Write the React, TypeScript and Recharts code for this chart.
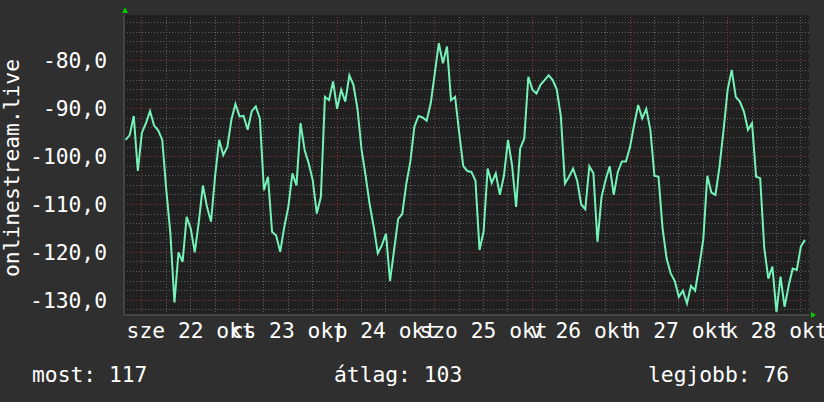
import React from 'react';
import { LineChart, Line, XAxis, YAxis, CartesianGrid, ReferenceLine, ReferenceDot } from 'recharts';

// hourly samples, hour 0 = 22 Oct 00:00
const startHour = -4;
const listeners: number[] = [
  -96.5, -95.5, -91.5, -103,
  -95, -93, -90.5, -93.5, -94.5, -96.5, -107, -116, -130.5, -120, -122, -112.6, -115, -120, -113.6, -106, -110.5, -113.6, -104, -96.5, -99.7, -98, -92.3, -89,
  -91.6, -91.5, -94.4, -90.5, -89.5, -92, -107, -104.2, -115.7, -116.5, -119.9, -114.7, -110.5, -103.5, -106, -93, -98.6, -101.4, -104.9, -111.9, -108.4, -87.5, -88.2, -84.3, -90, -86, -88.5, -83,
  -85, -90, -98.5, -104, -110, -114.7, -120.2, -118.5, -116.1, -126, -119.5, -113, -112, -105.7, -101, -93.7, -91.5, -91.8, -92.5, -88.9, -82.6, -76.3, -80.5, -77, -88.2, -87.5, -95, -102, -103,
  -103.2, -105, -119.5, -115.7, -102.5, -105.5, -103.5, -108, -104, -96.5, -101.8, -110.5, -98.3, -96.2, -83.3, -86, -86.8, -85, -84, -83, -84, -86, -91.6, -105.6, -104.2, -102.5, -105, -110,
  -111, -102, -103.5, -117.8, -108.4, -104.9, -102, -108, -103.2, -101, -101, -98, -93.4, -89.2, -92, -90, -94.4, -104, -104.2, -115, -121.3, -124.4, -126, -129.3, -128, -130.7, -127, -128,
  -123, -117.4, -104, -107.5, -108, -102.1, -94.4, -86, -81.9, -87.5, -88.5, -90.6, -94.4, -93, -104.2, -104.5, -119.1, -125.5, -123, -132.5, -125.1, -131.4, -127, -123.4, -123.7, -118.8, -117.4,
];

const dayLabels = ['sze 22 okt', 'cs 23 okt', 'p 24 okt', 'szo 25 okt', 'v 26 okt', 'h 27 okt', 'k 28 okt'];
const dayLabelHours = [12, 36, 60, 84, 108, 132, 156];
const yTicks = [-130, -120, -110, -100, -90, -80];
const yMinorGrid = [-132, -128, -126, -124, -122, -118, -116, -114, -112, -108, -106, -104, -102, -98, -96, -94, -92, -88, -86, -84, -82, -78, -76, -74, -72];
const xMajorGrid = [0, 24, 48, 72, 96, 120, 144];
const xMinorGrid = [6, 12, 18, 30, 36, 42, 54, 60, 66, 78, 84, 90, 102, 108, 114, 126, 132, 138, 150, 156, 162];
const xDomain: [number, number] = [-4.4, 164];
const yDomain: [number, number] = [-133.1, -70.4];
const legendItems = [
  { label: 'most', value: 117 },
  { label: 'átlag', value: 103 },
  { label: 'legjobb', value: 76 },
];
const yAxisTitle = 'onlinestream.live';

const data = listeners.map((v, i) => ({ hour: startHour + i, value: v }));

const FONT = '"DejaVu Sans Mono", monospace';
const FS = 21.3;
const TEXT = '#ffffff';
const MINOR = '#606060';
const MAJOR = '#8a3838';
const ARROW = '#00cc00';

const UpArrow = (p: any) => (
  <polygon
    points={`${p.cx - 2},${p.cy - 2} ${p.cx + 4},${p.cy - 2} ${p.cx + 1},${p.cy - 8}`}
    fill={ARROW}
  />
);
const RightArrow = (p: any) => (
  <polygon
    points={`${p.cx + 2},${p.cy - 3} ${p.cx + 2},${p.cy + 3} ${p.cx + 7},${p.cy}`}
    fill={ARROW}
  />
);

const YTitle = (props: any) => {
  const vb = props.viewBox || { x: 0, y: 15, width: 124, height: 300 };
  const x = vb.x + 18.5;
  const y = vb.y + vb.height / 2 + 3;
  return (
    <text
      x={x}
      y={y}
      transform={`rotate(-90 ${x} ${y})`}
      textAnchor="middle"
      fontFamily={FONT}
      fontSize={FS}
      fill={TEXT}
    >
      {yAxisTitle}
    </text>
  );
};

const legendX = [32, 334, 648];

export default function App() {
  return (
    <div style={{ width: 824, height: 402, background: '#2f2f2f', position: 'relative', overflow: 'hidden' }}>
      <style>{'body{margin:0;background:#2f2f2f}'}</style>
      <LineChart width={824} height={402} data={data} margin={{ top: 15, right: 15, bottom: 0, left: 0 }}>
        <CartesianGrid fill="#202020" horizontal={false} vertical={false} stroke="none" />
        {yMinorGrid.map((v) => (
          <ReferenceLine key={'ym' + v} y={v} stroke={MINOR} strokeDasharray="1 2" shapeRendering="crispEdges" ifOverflow="hidden" />
        ))}
        {xMinorGrid.map((v) => (
          <ReferenceLine key={'xm' + v} x={v} stroke={MINOR} strokeDasharray="1 2" shapeRendering="crispEdges" ifOverflow="hidden" />
        ))}
        {yTicks.map((v) => (
          <ReferenceLine key={'yM' + v} y={v} stroke={MAJOR} strokeDasharray="1 2" shapeRendering="crispEdges" ifOverflow="hidden" />
        ))}
        {xMajorGrid.map((v) => (
          <ReferenceLine key={'xM' + v} x={v} stroke={MAJOR} strokeDasharray="1 2" shapeRendering="crispEdges" ifOverflow="hidden" />
        ))}
        <XAxis
          dataKey="hour"
          type="number"
          domain={xDomain}
          allowDataOverflow
          ticks={dayLabelHours}
          interval={0}
          tickFormatter={(v: number) => dayLabels[dayLabelHours.indexOf(v)] ?? ''}
          height={87}
          tickSize={0}
          tickMargin={8}
          tickLine={false}
          axisLine={{ stroke: '#444444', strokeWidth: 2 }}
          tick={{ fill: TEXT, fontFamily: FONT, fontSize: FS }}
        />
        <YAxis
          type="number"
          domain={yDomain}
          allowDataOverflow
          ticks={yTicks}
          interval={0}
          width={124}
          tickSize={0}
          tickMargin={17}
          tickLine={false}
          axisLine={{ stroke: '#444444', strokeWidth: 2 }}
          tickFormatter={(v: number) => v.toFixed(1).replace('.', ',')}
          tick={{ fill: TEXT, fontFamily: FONT, fontSize: FS }}
          label={{ content: (p: any) => <YTitle {...p} /> }}
        />
        <Line
          type="linear"
          dataKey="value"
          stroke="#74f2b8"
          strokeWidth={2}
          dot={false}
          isAnimationActive={false}
        />
        <ReferenceDot x={xDomain[0]} y={yDomain[1]} r={0} ifOverflow="visible" shape={UpArrow} />
        <ReferenceDot x={xDomain[1]} y={yDomain[0]} r={0} ifOverflow="visible" shape={RightArrow} />
      </LineChart>
      <svg width={824} height={402} style={{ position: 'absolute', left: 0, top: 0, pointerEvents: 'none' }}>
        {legendItems.map((item, i) => (
          <text key={item.label} x={legendX[i]} y={382} fontFamily={FONT} fontSize={FS} fill={TEXT}>
            {`${item.label}: ${item.value}`}
          </text>
        ))}
      </svg>
    </div>
  );
}
